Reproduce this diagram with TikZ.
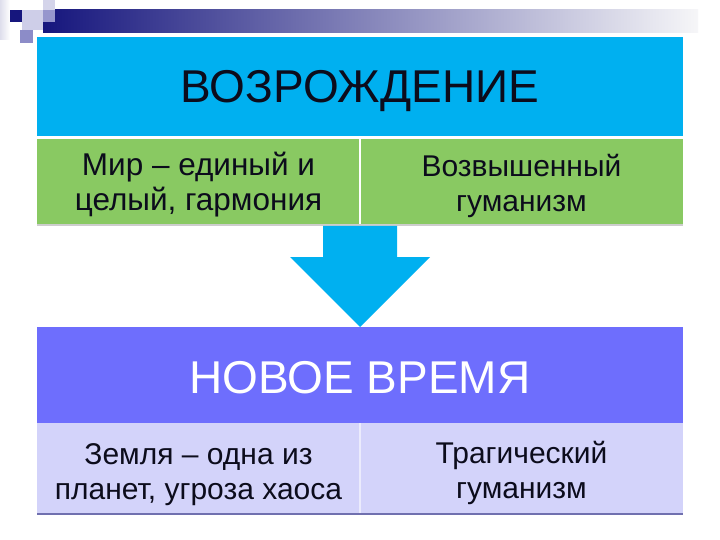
\documentclass[tikz,border=0pt]{standalone}
\usepackage{fontspec}
\setmainfont{Liberation Sans}
\definecolor{hdrblue}{RGB}{0,176,240}
\definecolor{rowgreen}{RGB}{137,201,98}
\definecolor{hdrpurple}{RGB}{110,110,253}
\definecolor{rowlav}{RGB}{211,211,250}
\definecolor{navy}{RGB}{22,22,125}
\definecolor{barmid}{RGB}{165,165,190}
\definecolor{barend}{RGB}{246,246,248}
\definecolor{inkdark}{RGB}{12,12,28}
\definecolor{palestrip}{RGB}{222,222,236}
\definecolor{decoA}{RGB}{212,212,234}
\definecolor{decoB}{RGB}{150,150,205}
\definecolor{decoC}{RGB}{206,206,232}
\definecolor{decoD}{RGB}{140,140,200}
\definecolor{greenshadow}{RGB}{205,205,205}
\definecolor{lavdivider}{RGB}{235,235,252}
\definecolor{lavshadow}{RGB}{112,112,175}
\begin{document}
\begin{tikzpicture}[x=1pt,y=-1pt,
  cell/.style={anchor=north west, inner sep=0pt, outer sep=0pt},
  titletext/.style={anchor=base, inner sep=0pt, font=\fontsize{46}{52}\selectfont},
  celltext/.style={align=center, inner sep=0pt, font=\fontsize{30}{35}\selectfont, text=inkdark},
  bigcelltext/.style={celltext, font=\fontsize{31.5}{35}\selectfont}]
\useasboundingbox (0,0) rectangle (720,540);
\fill[white] (0,0) rectangle (720,540);
% decoration at top left
\shade[left color=palestrip, right color=white] (0,0) rectangle (10,40);
\shade[left color=navy, middle color=barmid, right color=barend] (43,10) rectangle (698,33);
\fill[decoA] (43,0) rectangle (55,10);
\fill[decoB] (43,10) rectangle (55,22);
\fill[decoC] (22,10) rectangle (43,30);
\fill[navy] (10,10) rectangle (22,22);
\fill[decoD] (20,30) rectangle (33,43);
% upper table
\node[cell, fill=hdrblue, minimum width=646pt, minimum height=100pt] (top) at (37,37) {};
\node[cell, fill=rowgreen, minimum width=323pt, minimum height=86pt] (gl) at (37,139) {};
\node[cell, fill=rowgreen, minimum width=323pt, minimum height=86pt] (gr) at (360,139) {};
\draw[white, line width=1.5pt] (top.south west) -- (top.south east);
\draw[white, line width=1.5pt] (gl.north east) -- (gl.south east);
\draw[greenshadow, line width=1.2pt] (gl.south west) -- (gr.south east);
\node[titletext, text=inkdark] (t1) at (360,103) {ВОЗРОЖДЕНИЕ};
\node[bigcelltext] (c1) at ([yshift=-2.5pt]gl.center) {Мир – единый и\\целый, гармония};
\node[celltext] (c2) at ([yshift=-4pt]gr.center) {Возвышенный\\гуманизм};
% arrow
\fill[hdrblue] (323,226) -- (397,226) -- (397,257) -- (430,257) -- (360,327) -- (290,257) -- (323,257) -- cycle;
% lower table
\node[cell, fill=hdrpurple, minimum width=646pt, minimum height=96pt] (bot) at (37,327) {};
\node[cell, fill=rowlav, minimum width=323pt, minimum height=90pt] (ll) at (37,423) {};
\node[cell, fill=rowlav, minimum width=323pt, minimum height=90pt] (lr) at (360,423) {};
\draw[lavdivider, line width=1.2pt] (ll.north east) -- (ll.south east);
\draw[lavshadow, line width=2pt] ([yshift=-1pt]ll.south west) -- ([yshift=-1pt]lr.south east);
\node[titletext, text=white] (t2) at (360,393) {НОВОЕ ВРЕМЯ};
\node[celltext] (c3) at ([yshift=-7pt]ll.center) {Земля – одна из\\планет, угроза хаоса};
\node[celltext] (c4) at ([yshift=-5pt]lr.center) {Трагический\\гуманизм};
\end{tikzpicture}
\end{document}
